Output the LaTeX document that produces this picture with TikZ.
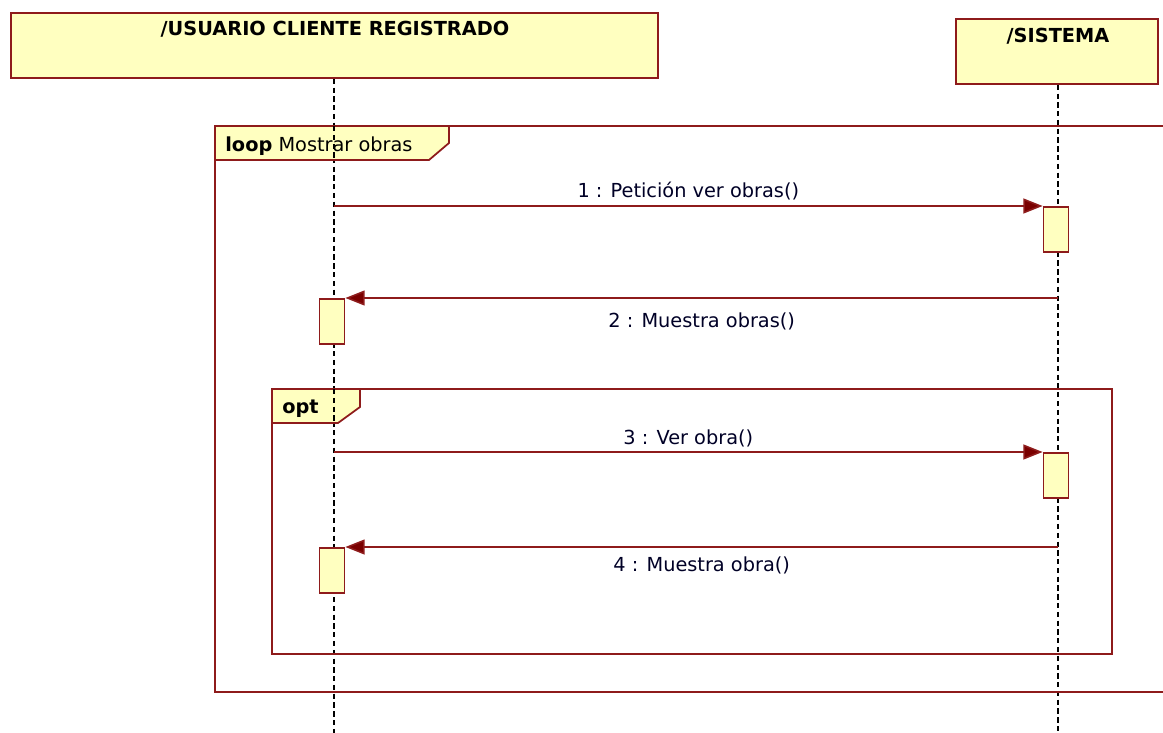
\documentclass[tikz,border=0pt]{standalone}
\usepackage{fontspec}
\setmainfont{DejaVu Sans}
\usetikzlibrary{positioning,arrows.meta}

\definecolor{umlred}{HTML}{8E1B1B}
\definecolor{umlfill}{HTML}{FFFFC0}
\definecolor{umlhead}{HTML}{7A0000}

\tikzset{
  head/.style = {draw=umlred, fill=umlfill, line width=1pt, minimum height=65*0.02cm,
    inner sep=0pt, anchor=north west},
  title/.style = {font=\fontsize{11}{12}\selectfont\bfseries, anchor=base, inner sep=0pt},
  activ/.style = {draw=umlred, fill=umlfill, line width=1pt, minimum width=25*0.02cm,
    minimum height=45*0.02cm, inner sep=0pt, anchor=north},
  lifeline/.style = {dash pattern=on 3pt off 2pt, line width=0.9pt, black},
  msg/.style = {umlred, line width=0.9pt, -{Triangle[length=11pt,width=8.5pt,fill=umlhead]}},
  msglabel/.style = {font=\fontsize{11}{12}\selectfont, text=black!85!blue, anchor=base, inner sep=0pt},
  frame/.style = {draw=umlred, line width=1pt},
  tag/.style = {font=\fontsize{11}{12}\selectfont, anchor=base west, inner sep=0pt}
}

\begin{document}
\begin{tikzpicture}[x=0.02cm, y=-0.02cm]
  \useasboundingbox (0,0) rectangle (1163,733);

  % lifeline heads
  \node[head, minimum width=647*0.02cm] (user) at (10,12) {};
  \node[title] (usertitle) at (335,36) {/USUARIO CLIENTE REGISTRADO};
  \node[head, minimum width=202*0.02cm] (sys) at (955,18) {};
  \node[title] (systitle) at (1058,43) {/SISTEMA};

  % lifelines
  \coordinate (uend) at (334,733);
  \coordinate (send) at (1058,733);
  \draw[lifeline] (user.south -| uend) -- (uend);
  \draw[lifeline] (sys.south -| send) -- (send);

  % loop frame
  \draw[frame] (1170,126) -- (215,126) -- (215,692) -- (1170,692);
  \draw[frame, fill=umlfill] (215,126) -- (449,126) -- (449,143) -- (429,160) -- (215,160) -- cycle;
  \node[tag] (looptag) at (225,152) {\textbf{loop} Mostrar obras};

  % opt frame
  \draw[frame] (272,389) rectangle (1112,654);
  \draw[frame, fill=umlfill] (272,389) -- (360,389) -- (360,407) -- (338,423) -- (272,423) -- cycle;
  \node[tag] (opttag) at (282,413) {\textbf{opt}};

  \draw[lifeline] (334,126) -- (334,160);
  \draw[lifeline] (334,389) -- (334,423);

  % activations
  \node[activ] (s1) at (1056,206) {};
  \node[activ] (u2) at (332,298) {};
  \node[activ] (s3) at (1056,452) {};
  \node[activ] (u4) at (332,547) {};

  \coordinate (u1) at (334,206);
  \coordinate (sy2) at (1058,298);
  \coordinate (u3) at (334,452);
  \coordinate (sy4) at (1058,547);

  % messages
  \draw[msg] (u1) -- (s1.north west)
    node[msglabel, midway, yshift=0.18cm] {1 : Petición ver obras()};
  \draw[msg] (sy2) -- (u2.north east)
    node[msglabel, midway, yshift=-0.6cm] {2 : Muestra obras()};
  \draw[msg] (u3) -- (s3.north west)
    node[msglabel, midway, yshift=0.16cm] {3 : Ver obra()};
  \draw[msg] (sy4) -- (u4.north east)
    node[msglabel, midway, yshift=-0.5cm] {4 : Muestra obra()};
\end{tikzpicture}
\end{document}
